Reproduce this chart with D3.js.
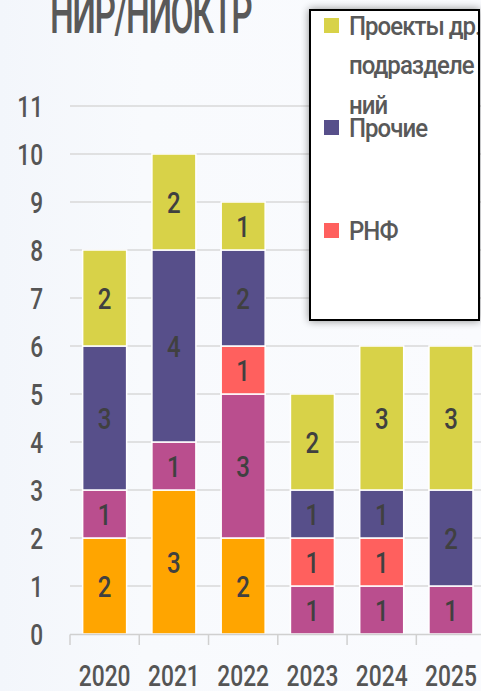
<!DOCTYPE html>
<html>
<head>
<meta charset="utf-8">
<script src="https://cdn.jsdelivr.net/npm/d3@7"></script>
<style>
  html, body { margin: 0; padding: 0; overflow: hidden; }
  body { width: 481px; height: 691px; }
  svg { display: block; font-family: Roboto, "Noto Sans", sans-serif; font-weight: 500; }
</style>
</head>
<body>
<svg id="chart" width="481" height="691"></svg>
<script>
// Years on the category axis
const years = ["2020", "2021", "2022", "2023", "2024", "2025"];

// Stacked series, bottom to top
const seriesOrange  = [2, 3, 2, 0, 0, 0];
const seriesMagenta = [1, 1, 3, 1, 1, 1];
const seriesRNF     = [0, 0, 1, 1, 1, 0];
const seriesOther   = [3, 4, 2, 1, 1, 2];
const seriesDepts   = [2, 2, 1, 2, 3, 3];

const seriesKeys   = ["orange", "magenta", "rnf", "other", "depts"];
const seriesColors = ["#FFA500", "#BA4E8E", "#FF605E", "#574F8A", "#D8D248"];

// Legend entries (top to bottom)
const legendLabels = [
  ["Проекты др.", "подразделе", "ний"],
  ["Прочие"],
  ["РНФ"]
];
const legendColors = ["#D8D248", "#574F8A", "#FF605E"];

const yTicks = [0, 1, 2, 3, 4, 5, 6, 7, 8, 9, 10, 11];
const titleText = "НИР/НИОКТР";

const rows = years.map((y, i) => ({
  year: y,
  orange: seriesOrange[i],
  magenta: seriesMagenta[i],
  rnf: seriesRNF[i],
  other: seriesOther[i],
  depts: seriesDepts[i]
}));

const svg = d3.select("#chart");

// Background
const defs = svg.append("defs");
const bg = defs.append("linearGradient").attr("id", "bg").attr("x1", 0).attr("x2", 1).attr("y1", 0).attr("y2", 0);
bg.append("stop").attr("offset", 0).attr("stop-color", "#F3F6FB");
bg.append("stop").attr("offset", 0.3).attr("stop-color", "#F8FAFD");
bg.append("stop").attr("offset", 1).attr("stop-color", "#FAFBFE");
svg.append("rect").attr("width", 481).attr("height", 691).attr("fill", "url(#bg)");

const x = d3.scaleBand().domain(years).range([70, 485.6]).paddingInner(0.365).paddingOuter(0.1825);
const y = d3.scaleLinear().domain([0, 11]).range([634, 106]);

// Horizontally condensed text helper
function ctext(g, tx, ty, str, size, sx, anchor, fill) {
  return g.append("text")
    .attr("transform", `translate(${tx},${ty}) scale(${sx},1)`)
    .attr("text-anchor", anchor)
    .attr("font-size", size)
    .attr("fill", fill)
    .text(str);
}

// Gridlines
svg.append("g")
  .selectAll("line")
  .data(yTicks.filter(d => d > 0))
  .join("line")
  .attr("x1", 70).attr("x2", 481)
  .attr("y1", d => y(d)).attr("y2", d => y(d))
  .attr("stroke", "#D9D9D9").attr("stroke-width", 1.5);

// Y tick labels
const yLab = svg.append("g");
yTicks.forEach(t => ctext(yLab, 43, y(t) + 10.5, String(t), 29, 0.78, "end", "#555555"));

// Stacked bars
const stack = d3.stack().keys(seriesKeys)(rows);
const layers = svg.append("g").selectAll("g")
  .data(stack)
  .join("g")
  .attr("fill", (d, i) => seriesColors[i]);

layers.selectAll("rect")
  .data(d => d.filter(s => s[1] - s[0] > 0))
  .join("rect")
  .attr("x", d => x(d.data.year))
  .attr("width", x.bandwidth())
  .attr("y", d => y(d[1]))
  .attr("height", d => y(d[0]) - y(d[1]))
  .attr("stroke", "#FFFFFF")
  .attr("stroke-width", 1.5);

// Value labels
const vLab = svg.append("g");
stack.forEach(layer => {
  layer.forEach(s => {
    const v = s[1] - s[0];
    if (v > 0) {
      const cy = (y(s[0]) + y(s[1])) / 2;
      ctext(vLab, x(s.data.year) + x.bandwidth() / 2, cy + 10.5, String(v), 30, 0.8, "middle", "#404040");
    }
  });
});

// Category axis line with ticks between categories
const axisG = svg.append("g");
axisG.append("line")
  .attr("x1", 70).attr("x2", 481).attr("y1", 634.5).attr("y2", 634.5)
  .attr("stroke", "#D0D0D0").attr("stroke-width", 1.5);
const bounds = years.map(d => x(d) - x.step() * x.paddingInner() / 2);
bounds[0] = 70;
axisG.selectAll("line.tick")
  .data(bounds)
  .join("line")
  .attr("class", "tick")
  .attr("x1", d => d).attr("x2", d => d)
  .attr("y1", 634.5).attr("y2", 645)
  .attr("stroke", "#D0D0D0").attr("stroke-width", 1.5);

// Category labels
const xLab = svg.append("g");
years.forEach(yr => ctext(xLab, x(yr) + x.bandwidth() / 2, 685.5, yr, 30, 0.76, "middle", "#555555"));

// Title
ctext(svg, 50, 33, titleText, 56, 0.6, "start", "#595959").attr("letter-spacing", -2.5);

// Legend box
const shadow = defs.append("filter").attr("id", "shadow").attr("x", -0.2).attr("y", -0.2).attr("width", 1.4).attr("height", 1.4);
shadow.append("feGaussianBlur").attr("in", "SourceAlpha").attr("stdDeviation", 4);
shadow.append("feComponentTransfer").append("feFuncA").attr("type", "linear").attr("slope", 0.45);
const fm = shadow.append("feMerge");
fm.append("feMergeNode");
fm.append("feMergeNode").attr("in", "SourceGraphic");

defs.append("clipPath").attr("id", "legClip")
  .append("rect").attr("x", 311).attr("y", 11).attr("width", 167).attr("height", 308);

svg.append("rect")
  .attr("x", 310).attr("y", 10).attr("width", 169).attr("height", 310)
  .attr("fill", "#FFFFFF")
  .attr("stroke", "#000000").attr("stroke-width", 2)
  .attr("filter", "url(#shadow)");

const leg = svg.append("g").attr("clip-path", "url(#legClip)");
const legTop = [18, 120, 223];
legendLabels.forEach((lines, i) => {
  leg.append("rect")
    .attr("x", 324).attr("y", legTop[i]).attr("width", 15).attr("height", 15)
    .attr("fill", legendColors[i]);
  lines.forEach((ln, j) => {
    ctext(leg, 349, legTop[i] + 15 + 39.5 * j + 1.5, ln, 25, 0.96, "start", "#595959").attr("letter-spacing", -1);
  });
});
</script>
</body>
</html>
